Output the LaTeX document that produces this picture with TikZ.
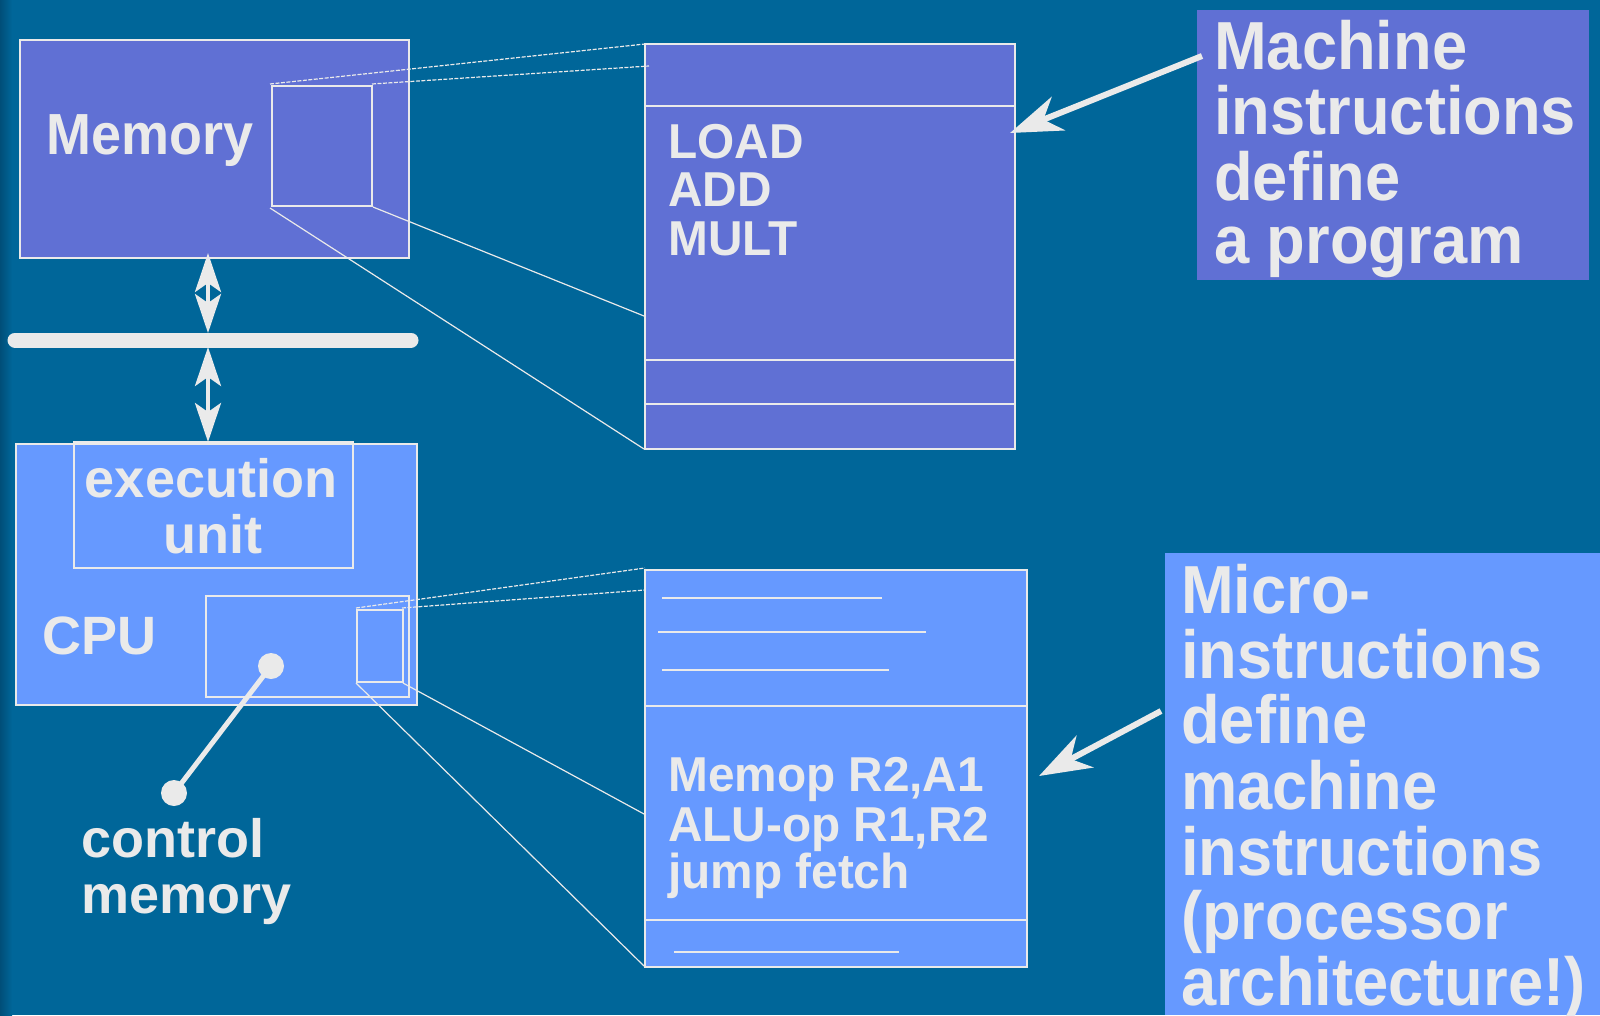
\documentclass[tikz,border=0pt]{standalone}
\usepackage{fontspec}
\newfontfamily\hv{Liberation Sans}[FakeStretch=0.93]
\newfontfamily\hvw{Liberation Sans}
\newfontfamily\hvc{Liberation Sans}[FakeStretch=0.975]
\usetikzlibrary{arrows.meta}
\definecolor{bg}{HTML}{006699}
\definecolor{memc}{HTML}{6070D4}
\definecolor{cpuc}{HTML}{6699FF}
\definecolor{fg}{HTML}{EAEAEA}
\definecolor{edgec}{HTML}{004E78}
\begin{document}
\begin{tikzpicture}[x=1pt,y=-1pt,
  box/.style={draw=fg, line width=1.5pt},
  zl/.style={draw=fg, line width=1.2pt},
  zd/.style={zl, dash pattern=on 4pt off 1.5pt},
  tline/.style={draw=fg, line width=1.5pt},
  txt/.style={text=fg, inner sep=0pt, anchor=base west},
  bigt/.style={txt, font=\hv\bfseries\fontsize{68}{65}\selectfont},
  midt/.style={txt, font=\hvw\bfseries\fontsize{54}{56}\selectfont},
  memt/.style={txt, font=\hv\bfseries\fontsize{58}{60}\selectfont},
  codet/.style={txt, font=\hvc\bfseries\fontsize{49}{48}\selectfont},
  bustip/.style={fg, line width=4pt, {Stealth[length=39pt,width=26pt,inset=9pt]}-{Stealth[length=39pt,width=26pt,inset=9pt]}},
  calltip/.style={fg, line width=6pt, -{Stealth[length=52pt,width=36pt,inset=16pt]}}
]
\useasboundingbox (0,0) rectangle (1600,1015);
\fill[bg] (0,0) rectangle (1600,1015);
\shade[left color=edgec, right color=bg] (0,0) rectangle (12,1015);

% ---------- Memory ----------
\draw[box, fill=memc] (20,40) rectangle (409,258);
\coordinate (memTop) at (208,253);
\node[memt] (memlabel) at (46,154) {Memory};
\draw[box] (272,86) rectangle (372,206);
\coordinate (smTL) at (270,84);
\coordinate (smTR) at (372,84);
\coordinate (smBL) at (270,208);
\coordinate (smBR) at (373,207);

% program box
\draw[box, fill=memc] (645,44) rectangle (1015,449);
\draw[box] (645,106) -- (1015,106);
\draw[box] (645,360) -- (1015,360);
\draw[box] (645,404) -- (1015,404);
\coordinate (pgTL) at (645,44);
\coordinate (pgT2) at (649,66);
\coordinate (pgML) at (644,316);
\coordinate (pgBL) at (644,449);
\coordinate (pgR) at (1010,133);
\draw[zd] (smTL) -- (pgTL);
\draw[zd] (smTR) -- (pgT2);
\draw[zl] (smBR) -- (pgML);
\draw[zl] (smBL) -- (pgBL);
\node[codet] (load) at (668,158) {LOAD};
\node[codet] (add) at (668,206) {ADD};
\node[codet] (mult) at (668,255) {MULT};

% ---------- Bus ----------
\coordinate (busL) at (15,340);
\coordinate (busR) at (411,340);
\draw[fg, line width=15pt, line cap=round] (busL) -- (busR);
\coordinate (busTop) at (208,333);
\coordinate (busBot) at (208,347);
\coordinate (cpuTop) at (208,442);
\draw[bustip] (memTop) -- (busTop);
\draw[bustip] (busBot) -- (cpuTop);

% ---------- CPU ----------
\draw[box, fill=cpuc] (16,444) rectangle (417,705);
\draw[box] (74,442) rectangle (353,568);
\node[midt, anchor=base] (exec1) at (211,497) {execution};
\node[midt, anchor=base] (exec2) at (213,553) {unit};
\node[midt] (cpulabel) at (42,654) {CPU};
\draw[box] (206,596) rectangle (409,697);
\draw[box] (357,610) rectangle (403,682);
\coordinate (usTL) at (356,608);
\coordinate (usTR) at (402,608);
\coordinate (usBL) at (356,683);
\coordinate (usBR) at (403,683);

% control memory pointer
\coordinate (dotA) at (271,666);
\coordinate (dotB) at (174,793);
\draw[fg, line width=5pt] (dotA) -- (dotB);
\fill[fg] (dotA) circle[radius=13pt];
\fill[fg] (dotB) circle[radius=13pt];
\node[midt] (ctl1) at (81,857) {control};
\node[midt] (ctl2) at (81,913) {memory};

% microprogram box
\draw[box, fill=cpuc] (645,570) rectangle (1027,967);
\draw[box] (645,706) -- (1027,706);
\draw[box] (645,920) -- (1027,920);
\draw[tline] (662,598) -- (882,598);
\draw[tline] (658,632) -- (926,632);
\draw[tline] (662,670) -- (889,670);
\draw[tline] (674,952) -- (899,952);
\coordinate (upTL) at (645,568);
\coordinate (upT2) at (645,590);
\coordinate (upML) at (644,814);
\coordinate (upBL) at (644,966);
\coordinate (upR) at (1039,776);
\draw[zd] (usTL) -- (upTL);
\draw[zd] (usTR) -- (upT2);
\draw[zl] (usBR) -- (upML);
\draw[zl] (usBL) -- (upBL);
\node[codet] (mc1) at (668,791) {Memop R2,A1};
\node[codet] (mc2) at (668,841) {ALU-op R1,R2};
\node[codet] (mc3) at (668,888) {jump fetch};

% ---------- Callouts ----------
\fill[memc] (1197,10) rectangle (1589,280);
\node[bigt] (m1) at (1214,69) {Machine};
\node[bigt] (m2) at (1214,134) {instructions};
\node[bigt] (m3) at (1214,200) {define};
\node[bigt] (m4) at (1214,263) {a program};
\coordinate (mArrS) at (1202,56);
\draw[calltip] (mArrS) -- (pgR);

\fill[cpuc] (1165,553) rectangle (1600,1015);
\node[bigt] (u1) at (1181,613) {Micro-};
\node[bigt] (u2) at (1181,678) {instructions};
\node[bigt] (u3) at (1181,743) {define};
\node[bigt] (u4) at (1181,809) {machine};
\node[bigt] (u5) at (1181,875) {instructions};
\node[bigt] (u6) at (1181,939) {(processor};
\node[bigt] (u7) at (1181,1005) {architecture!)};
\coordinate (uArrS) at (1161,711);
\draw[calltip] (uArrS) -- (upR);
\end{tikzpicture}
\end{document}
